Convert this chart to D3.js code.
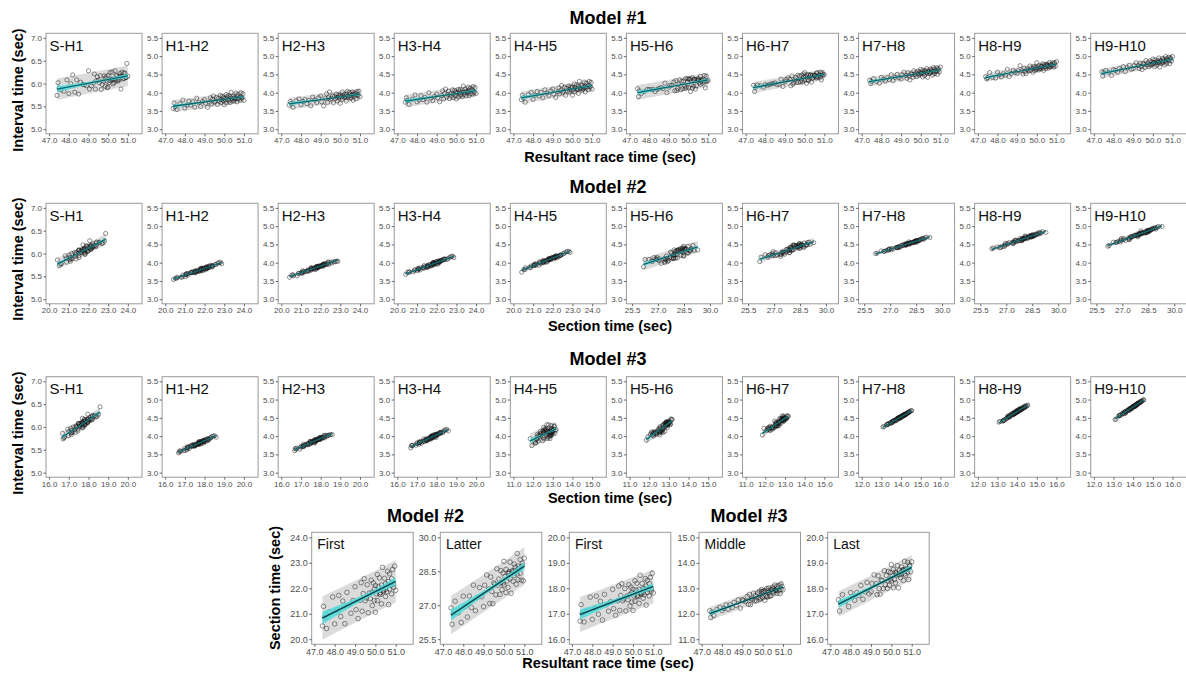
<!DOCTYPE html>
<html><head><meta charset="utf-8">
<script src="https://cdn.jsdelivr.net/npm/d3@7/dist/d3.min.js"></script>
<style>body{margin:0;background:#fff;} svg{display:block;font-family:"Liberation Sans",Arial,sans-serif;}</style>
</head><body><svg id="c" width="1186" height="673"></svg>
<script>
// ---- data (one entry per athlete) ----
const raceTime = [47.40,47.45,47.50,47.60,47.75,47.90,48.00,48.10,48.20,48.30,
 48.40,48.50,48.60,48.70,48.80,48.90,49.00,49.05,49.15,49.25,
 49.30,49.35,49.40,49.45,49.50,49.55,49.60,49.65,49.70,49.75,
 49.80,49.85,49.85,49.90,49.95,50.00,50.00,50.05,50.10,50.10,
 50.15,50.20,50.20,50.25,50.30,50.30,50.35,50.40,50.40,50.45,
 50.50,50.50,50.55,50.60,50.60,50.65,50.70,50.70,50.75,50.80,
 50.80,50.85,50.90,50.90,50.95,51.00,50.50,50.25,49.95,50.65];
const splitS_H1 = [5.74,6.02,5.90,5.86,5.83,6.08,5.78,6.00,6.19,5.81,
 6.08,5.77,6.03,5.98,5.97,5.95,6.28,5.88,5.95,6.01,
 6.21,5.88,6.06,6.15,6.07,6.02,6.17,5.87,5.98,6.05,
 6.17,6.12,5.94,6.15,5.91,6.18,5.92,6.02,6.24,6.07,
 6.10,6.09,6.25,5.99,6.02,6.09,6.28,6.17,6.06,6.18,
 6.08,6.12,6.08,6.22,6.16,5.88,6.25,6.14,6.10,6.23,
 6.11,6.23,6.13,6.13,6.44,6.16,6.05,6.09,6.05,6.16];
const splitH1_H2 = [3.57,3.72,3.61,3.54,3.70,3.80,3.58,3.66,3.77,3.66,
 3.75,3.60,3.85,3.73,3.62,3.76,3.81,3.71,3.60,3.74,
 3.86,3.69,3.82,3.91,3.74,3.76,3.87,3.68,3.84,3.76,
 3.93,3.81,3.73,3.90,3.78,3.84,3.67,3.80,3.95,3.72,
 3.88,3.80,3.92,3.84,3.73,3.89,4.01,3.78,3.84,3.90,
 3.77,3.86,3.82,3.99,3.85,3.75,3.95,3.83,3.86,3.88,
 3.80,4.00,3.87,3.85,3.97,3.79,3.83,3.77,3.86,3.91];
const splitH2_H3 = [3.66,3.76,3.71,3.60,3.78,3.83,3.67,3.76,3.81,3.70,
 3.79,3.64,3.88,3.80,3.73,3.86,3.91,3.75,3.64,3.84,
 3.97,3.73,3.86,4.02,3.82,3.85,3.91,3.72,3.90,3.84,
 3.96,3.87,3.77,3.94,3.85,3.94,3.71,3.89,4.02,3.82,
 3.91,3.87,3.95,3.90,3.77,3.96,4.04,3.88,3.90,4.01,
 3.85,3.97,3.86,4.02,3.93,3.79,3.99,3.90,3.94,3.98,
 3.83,4.03,3.95,3.92,4.04,3.89,3.92,3.87,3.90,3.95];
const splitH3_H4 = [3.74,3.86,3.79,3.68,3.82,3.94,3.75,3.80,3.92,3.81,
 3.87,3.74,4.00,3.85,3.78,3.90,3.96,3.86,3.75,3.92,
 4.05,3.83,3.98,4.10,3.88,3.95,4.04,3.84,3.97,3.90,
 4.08,3.96,3.86,4.06,3.92,4.00,3.83,3.99,4.09,3.88,
 4.04,3.93,4.08,4.00,3.89,4.02,4.18,3.95,4.01,4.10,
 3.91,4.04,3.99,4.15,4.02,3.92,4.12,3.97,4.05,4.09,
 3.96,4.17,4.03,3.99,4.14,3.98,4.03,3.94,4.02,4.07];
const splitH4_H5 = [3.81,3.93,3.86,3.74,3.95,4.01,3.82,3.93,4.03,3.91,
 4.01,3.86,4.08,3.99,3.92,4.05,4.10,3.96,3.87,4.02,
 4.13,3.97,4.07,4.20,4.00,4.04,4.15,3.93,4.12,4.04,
 4.18,4.09,4.02,4.16,4.06,4.15,3.93,4.08,4.24,4.03,
 4.14,4.09,4.21,4.11,3.98,4.17,4.31,4.10,4.12,4.20,
 4.07,4.19,4.11,4.29,4.15,4.02,4.26,4.13,4.16,4.20,
 4.08,4.31,4.18,4.15,4.28,4.10,4.13,4.09,4.14,4.18];
const splitH5_H6 = [4.11,3.89,4.05,3.98,4.03,4.09,4.09,4.08,4.09,4.03,
 4.09,4.12,4.14,4.11,4.26,4.00,4.15,4.20,4.20,4.29,
 4.05,4.33,4.06,4.11,4.22,4.35,4.08,4.31,4.11,4.32,
 4.18,4.12,4.39,4.15,4.38,4.14,4.38,4.36,4.03,4.38,
 4.22,4.41,4.12,4.35,4.37,4.36,4.10,4.36,4.19,4.33,
 4.33,4.39,4.28,4.23,4.45,4.35,4.34,4.26,4.37,4.29,
 4.47,4.13,4.45,4.32,4.31,4.34,4.36,4.18,4.30,4.31];
const splitH6_H7 = [4.20,4.03,4.15,4.21,4.19,4.15,4.22,4.20,4.22,4.24,
 4.25,4.27,4.22,4.23,4.37,4.17,4.30,4.36,4.41,4.37,
 4.19,4.46,4.23,4.27,4.35,4.42,4.28,4.48,4.28,4.46,
 4.29,4.34,4.48,4.29,4.51,4.34,4.55,4.44,4.26,4.49,
 4.35,4.49,4.33,4.45,4.49,4.48,4.29,4.47,4.39,4.42,
 4.47,4.47,4.43,4.40,4.53,4.55,4.48,4.42,4.48,4.43,
 4.56,4.35,4.54,4.49,4.48,4.50,4.49,4.40,4.43,4.43];
const splitH7_H8 = [4.34,4.25,4.31,4.38,4.31,4.26,4.42,4.37,4.32,4.41,
 4.36,4.49,4.33,4.42,4.50,4.41,4.37,4.49,4.56,4.47,
 4.39,4.55,4.46,4.35,4.52,4.50,4.42,4.60,4.49,4.55,
 4.44,4.52,4.59,4.48,4.57,4.52,4.64,4.54,4.43,4.61,
 4.53,4.59,4.47,4.56,4.66,4.54,4.42,4.60,4.57,4.53,
 4.65,4.55,4.62,4.48,4.59,4.69,4.52,4.64,4.60,4.58,
 4.68,4.50,4.62,4.66,4.57,4.70,4.56,4.60,4.51,4.57];
const splitH8_H9 = [4.44,4.38,4.41,4.55,4.42,4.40,4.56,4.48,4.43,4.52,
 4.48,4.64,4.44,4.53,4.61,4.56,4.53,4.60,4.74,4.60,
 4.51,4.67,4.58,4.52,4.65,4.62,4.60,4.73,4.61,4.68,
 4.56,4.67,4.72,4.60,4.70,4.64,4.82,4.68,4.62,4.74,
 4.66,4.72,4.66,4.72,4.79,4.67,4.61,4.77,4.71,4.66,
 4.78,4.72,4.76,4.67,4.73,4.83,4.71,4.77,4.76,4.74,
 4.81,4.70,4.79,4.82,4.73,4.85,4.75,4.73,4.64,4.71];
const splitH9_H10 = [4.57,4.45,4.55,4.61,4.56,4.47,4.63,4.61,4.56,4.66,
 4.62,4.71,4.58,4.68,4.75,4.64,4.66,4.74,4.82,4.74,
 4.66,4.81,4.72,4.63,4.80,4.77,4.69,4.88,4.76,4.82,
 4.71,4.77,4.87,4.75,4.84,4.79,4.92,4.83,4.71,4.90,
 4.81,4.84,4.75,4.82,4.95,4.83,4.70,4.87,4.86,4.81,
 4.94,4.82,4.91,4.76,4.88,4.99,4.80,4.93,4.90,4.88,
 4.97,4.79,4.92,4.95,4.87,4.99,4.85,4.88,4.78,4.86];

const intervalNames = ["S-H1","H1-H2","H2-H3","H3-H4","H4-H5","H5-H6","H6-H7","H7-H8","H8-H9","H9-H10"];
const yTicksStart = [5.0,5.5,6.0,6.5,7.0];
const yTicksRest = [3.0,3.5,4.0,4.5,5.0,5.5];
const xTicksRace = [47,48,49,50,51];
const xTicksFirst2 = [20,21,22,23,24];
const xTicksLatter2 = [25.5,27,28.5,30];
const xTicksFirst3 = [16,17,18,19,20];
const xTicksMiddle3 = [11,12,13,14,15];
const xTicksLast3 = [12,13,14,15,16];
const bottomNames = ["First","Latter","First","Middle","Last"];
const bottomYTicks = [[20,21,22,23,24],[25.5,27,28.5,30],[16,17,18,19,20],[11,12,13,14,15],[16,17,18,19,20]];
// section membership (indices of intervals)
const secFirst2 = [0,1,2,3,4], secFirst3 = [0,1,2,3], secMiddle3 = [4,5,6], secLast3 = [7,8,9], secLastBottom = [6,7,8,9];

// ---- derived ----
const splits = [splitS_H1,splitH1_H2,splitH2_H3,splitH3_H4,splitH4_H5,splitH5_H6,splitH6_H7,splitH7_H8,splitH8_H9,splitH9_H10];
const sumOf = idx => raceTime.map((_, a) => +d3.sum(idx, k => splits[k][a]).toFixed(2));
const first2 = sumOf(secFirst2);
const latter2 = raceTime.map((r, a) => +(r - first2[a]).toFixed(2));
const first3 = sumOf(secFirst3), middle3 = sumOf(secMiddle3), last3 = sumOf(secLast3), lastBottom = sumOf(secLastBottom);

const svg = d3.select("#c");
const TICKFONT = "#4d4d4d";
let clipN = 0;

function fit(xs, ys){
  const n = xs.length, mx = d3.mean(xs), my = d3.mean(ys);
  let sxx = 0, sxy = 0;
  for (let i=0;i<n;i++){ sxx += (xs[i]-mx)**2; sxy += (xs[i]-mx)*(ys[i]-my); }
  const b = sxy/sxx, a = my - b*mx;
  let sse = 0; for (let i=0;i<n;i++) sse += (ys[i]-a-b*xs[i])**2;
  const s = Math.sqrt(sse/(n-2));
  return {a,b,mx,sxx,s,n,t:1.995};
}

function panel(o){
  const g = svg.append("g").attr("transform", `translate(${o.left},${o.top})`);
  const x = d3.scaleLinear().domain(o.xDomain).range([0, o.w]);
  const y = d3.scaleLinear().domain(o.yDomain).range([o.h, 0]);
  const id = "clip" + (clipN++);
  g.append("clipPath").attr("id", id).append("rect").attr("width", o.w).attr("height", o.h);
  const c = g.append("g").attr("clip-path", `url(#${id})`);
  const f = fit(o.xs, o.ys);
  const [x0, x1] = d3.extent(o.xs);
  const grid = d3.range(0, 41).map(i => x0 + (x1-x0)*i/40);
  const band = (extra) => d3.area()
    .x(d => x(d))
    .y0(d => y(f.a + f.b*d - f.t*f.s*Math.sqrt(extra + 1/f.n + (d-f.mx)**2/f.sxx)))
    .y1(d => y(f.a + f.b*d + f.t*f.s*Math.sqrt(extra + 1/f.n + (d-f.mx)**2/f.sxx)));
  c.append("path").datum(grid).attr("d", band(1)).attr("fill", "#cfcfcf").attr("fill-opacity", 0.75);
  c.append("g").selectAll("circle").data(o.xs).join("circle")
    .attr("cx", d => x(d)).attr("cy", (d,i) => y(o.ys[i])).attr("r", o.r)
    .attr("fill", "none").attr("stroke", "#1a1a1a").attr("stroke-opacity", 0.8).attr("stroke-width", 0.6);
  c.append("path").datum(grid).attr("d", band(0)).attr("fill", "#4fd9d9").attr("fill-opacity", 0.85);
  c.append("line").attr("x1", x(x0)).attr("x2", x(x1))
    .attr("y1", y(f.a+f.b*x0)).attr("y2", y(f.a+f.b*x1))
    .attr("stroke", o.lineColor).attr("stroke-width", o.lw);
  g.append("rect").attr("width", o.w).attr("height", o.h).attr("fill", "none").attr("stroke", "#9a9a9a").attr("stroke-width", 1);
  const ya = g.append("g").call(d3.axisLeft(y).tickValues(o.yTicks).tickSize(2.5).tickPadding(1.5).tickFormat(d3.format(".1f")));
  const xa = g.append("g").attr("transform", `translate(0,${o.h})`).call(d3.axisBottom(x).tickValues(o.xTicks).tickSize(2.5).tickPadding(1.5).tickFormat(d3.format(".1f")));
  [ya, xa].forEach(a => {
    a.select(".domain").remove();
    a.selectAll(".tick line").attr("stroke", "#444").attr("stroke-width", 0.8);
    a.selectAll(".tick text").attr("fill", TICKFONT).style("font-size", o.tickFont + "px").style("font-family", '"Liberation Sans",Arial,sans-serif');
  });
  g.append("text").attr("x", o.labX).attr("y", o.labY).text(o.label)
    .style("font-size", o.labFont + "px").attr("fill", "#111");
}

// ---- top three rows ----
const rowTops = [33.3, 203.3, 376.7];
const PW = 96, PH = 100.5;
const colLeft = k => 46 + 116.08*k;
const domRace = [46.84, 51.72];
const dom4 = t => [t[0]-0.16, t[0]+4.72];
const domLatter = [25.17, 30.72];

function rowX(model, k){
  if (model === 1) return {xs: raceTime, ticks: xTicksRace, dom: domRace};
  if (model === 2) return k < 5 ? {xs: first2, ticks: xTicksFirst2, dom: dom4(xTicksFirst2)}
                                : {xs: latter2, ticks: xTicksLatter2, dom: domLatter};
  if (k < 4) return {xs: first3, ticks: xTicksFirst3, dom: dom4(xTicksFirst3)};
  if (k < 7) return {xs: middle3, ticks: xTicksMiddle3, dom: dom4(xTicksMiddle3)};
  return {xs: last3, ticks: xTicksLast3, dom: dom4(xTicksLast3)};
}

[1,2,3].forEach((model, r) => {
  for (let k = 0; k < 10; k++){
    const xi = rowX(model, k);
    const yT = k === 0 ? yTicksStart : yTicksRest;
    const span = yT[yT.length-1] - yT[0];
    panel({left: colLeft(k), top: rowTops[r], w: PW, h: PH,
      xs: xi.xs, ys: splits[k], xDomain: xi.dom, xTicks: xi.ticks,
      yDomain: [yT[0]-0.05*span, yT[yT.length-1]+0.05*span], yTicks: yT,
      r: 2.1, lw: 1.3, lineColor: "#12666b", tickFont: 8,
      label: intervalNames[k], labX: 3.5, labY: 17.5, labFont: 15});
  }
});

// ---- bottom row ----
const bottomLefts = [311.7, 440.3, 569.3, 699, 827.7];
const bottomYs = [first2, latter2, first3, middle3, lastBottom];
bottomNames.forEach((nm, i) => {
  const yT = bottomYTicks[i];
  const span = yT[yT.length-1] - yT[0];
  panel({left: bottomLefts[i], top: 532.3, w: 101.5, h: 112,
    xs: raceTime, ys: bottomYs[i], xDomain: [46.87, 51.86], xTicks: xTicksRace,
    yDomain: [yT[0]-0.05*span, yT[yT.length-1]+0.05*span], yTicks: yT,
    r: 2.3, lw: 1.5, lineColor: "#0d4a4e", tickFont: 9,
    label: nm, labX: 5.6, labY: 16.5, labFont: 14});
});

// ---- titles ----
function txt(x, y, s, size, bold, rot){
  const t = svg.append("text").attr("x", x).attr("y", y).attr("text-anchor", "middle")
    .style("font-size", size + "px").style("font-weight", bold ? "bold" : "normal").attr("fill", "#000").text(s);
  if (rot) t.attr("transform", `rotate(-90,${x},${y})`);
}
txt(608, 23.5, "Model #1", 18, true);
txt(608, 192.5, "Model #2", 18, true);
txt(608, 364.5, "Model #3", 18, true);
txt(425.5, 521.5, "Model #2", 18, true);
txt(749, 521.5, "Model #3", 18, true);
txt(610, 162, "Resultant race time (sec)", 14.5, true);
txt(610, 331, "Section time (sec)", 14.5, true);
txt(610, 503, "Section time (sec)", 14.5, true);
txt(608, 668, "Resultant race time (sec)", 14.5, true);
txt(23, 90, "Interval time (sec)", 14.5, true, true);
txt(23, 259, "Interval time (sec)", 14.5, true, true);
txt(23, 433, "Interval time (sec)", 14.5, true, true);
txt(280, 588, "Section time (sec)", 14.5, true, true);
</script></body></html>
